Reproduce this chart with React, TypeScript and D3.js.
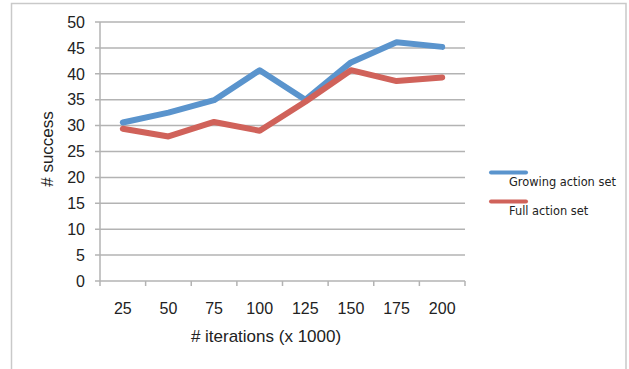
import React from "react";
import * as d3 from "d3";

const categories = ["25", "50", "75", "100", "125", "150", "175", "200"];
const growingValues = [30.6, 32.5, 34.9, 40.7, 35.0, 42.2, 46.1, 45.2];
const fullValues = [29.4, 27.9, 30.7, 29.0, 34.6, 40.7, 38.6, 39.3];
const yTicks = [0, 5, 10, 15, 20, 25, 30, 35, 40, 45, 50];
const seriesNames = ["Growing action set", "Full action set"];
const seriesColors = ["#5a94cd", "#d0625a"];

const W = 629;
const H = 369;
const plot = { left: 100, right: 465, top: 22, bottom: 281 };

export default function App() {
  const x = d3
    .scaleBand<string>()
    .domain(categories)
    .range([plot.left, plot.right]);
  const y = d3.scaleLinear().domain([0, 50]).range([plot.bottom, plot.top]);

  const line = d3
    .line<number>()
    .x((_, i) => (x(categories[i]) as number) + x.bandwidth() / 2)
    .y((d) => y(d));

  const series = [growingValues, fullValues];
  const fontAxis = "'Liberation Sans', Arial, sans-serif";
  const textColor = "#222";
  const gridColor = "#b3b3b3";

  return (
    <svg
      width={W}
      height={H}
      style={{ position: "absolute", left: 0, top: 0, background: "#fff" }}
    >
      {/* chart frame */}
      <rect x={11.5} y={3.5} width={614.5} height={380} fill="none" stroke="#c9c9c9" strokeWidth={1.5} />

      {/* horizontal gridlines */}
      {yTicks.map((t) => (
        <line
          key={"g" + t}
          x1={plot.left - 5}
          x2={plot.right}
          y1={y(t)}
          y2={y(t)}
          stroke={gridColor}
          strokeWidth={1.5}
        />
      ))}
      {/* value axis line */}
      <line x1={plot.left} x2={plot.left} y1={plot.top} y2={plot.bottom} stroke={gridColor} strokeWidth={1.5} />
      {/* category tick marks */}
      {[...categories.map((c) => x(c) as number), plot.right].map((px, i) => (
        <line
          key={"t" + i}
          x1={px}
          x2={px}
          y1={plot.bottom}
          y2={plot.bottom + 5}
          stroke={gridColor}
          strokeWidth={1.5}
        />
      ))}

      {/* y tick labels */}
      {yTicks.map((t) => (
        <text
          key={"yl" + t}
          x={85}
          y={y(t)}
          dy="0.36em"
          textAnchor="end"
          fontFamily={fontAxis}
          fontSize={16}
          fill={textColor}
        >
          {t}
        </text>
      ))}

      {/* x tick labels */}
      {categories.map((c) => (
        <text
          key={"xl" + c}
          x={(x(c) as number) + x.bandwidth() / 2}
          y={314}
          textAnchor="middle"
          fontFamily={fontAxis}
          fontSize={16}
          fill={textColor}
        >
          {c}
        </text>
      ))}

      {/* axis titles */}
      <text x={266} y={342} textAnchor="middle" fontFamily={fontAxis} fontSize={17} fill={textColor}>
        # iterations (x 1000)
      </text>
      <text
        transform="translate(53,149) rotate(-90)"
        textAnchor="middle"
        fontFamily={fontAxis}
        fontSize={17}
        fill={textColor}
      >
        # success
      </text>

      {/* series lines */}
      {series.map((vals, i) => (
        <path
          key={"s" + i}
          d={line(vals) as string}
          fill="none"
          stroke={seriesColors[i]}
          strokeWidth={6}
          strokeLinejoin="round"
          strokeLinecap="round"
        />
      ))}

      {/* legend */}
      {seriesNames.map((name, i) => (
        <g key={"lg" + i} transform={`translate(0, ${i * 29})`}>
          <line x1={491} x2={526} y1={172.5} y2={172.5} stroke={seriesColors[i]} strokeWidth={4} strokeLinecap="round" />
          <text x={509} y={186} fontFamily="'DejaVu Sans', Verdana, sans-serif" fontSize={11.4} fill={textColor}>
            {name}
          </text>
        </g>
      ))}
    </svg>
  );
}
